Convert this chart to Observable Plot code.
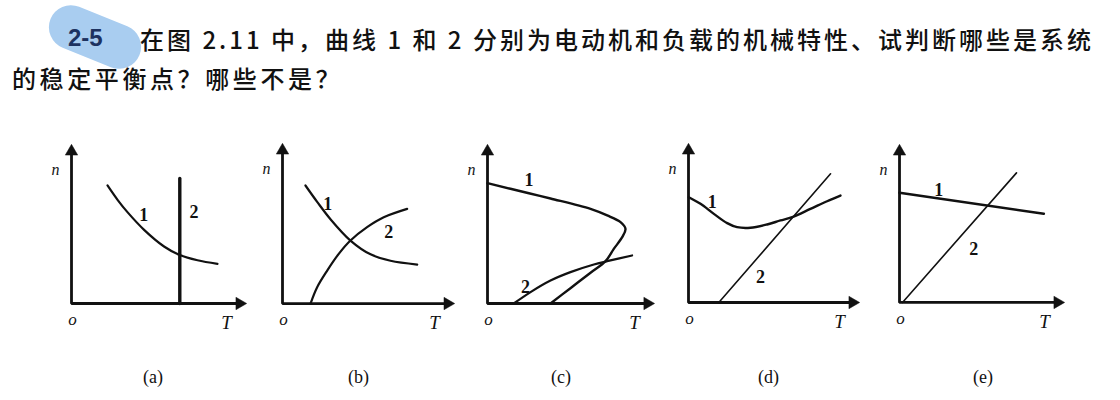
<!DOCTYPE html>
<html>
<head>
<meta charset="utf-8">
<script src="https://cdn.jsdelivr.net/npm/d3@7"></script>
<script src="https://cdn.jsdelivr.net/npm/@observablehq/plot@0.6"></script>
<style>
  html, body { margin: 0; padding: 0; background: #fff; }
  #page { position: relative; width: 1120px; height: 400px; overflow: hidden; background: #fff; }
  .abs { position: absolute; white-space: nowrap; }
  .cjk { font-family: "Noto Sans CJK SC", sans-serif; font-weight: 500; font-size: 24px; line-height: 24px; color: #111; letter-spacing: 3px; }
  .cap { font-family: "Liberation Serif", serif; font-size: 18px; color: #111; }
  #blob { position: absolute; left: 47px; top: 15px; width: 96px; height: 44px; border-radius: 22px; background: #a9cdf0; transform: rotate(22deg); }
  #num { position: absolute; left: 68px; top: 26px; font-family: "Liberation Sans", Arial, sans-serif; font-weight: bold; font-size: 24px; line-height: 24px; color: #1d3260; }
</style>
</head>
<body>
<div id="page">
  <div id="blob"></div>
  <div id="num">2-5</div>
  <div class="abs cjk" style="left:140px;top:27px;">在图 2.11 中，曲线 1 和 2 分别为电动机和负载的机械特性、试判断哪些是系统</div>
  <div class="abs cjk" style="left:12px;top:66px;letter-spacing:3.6px;">的稳定平衡点？哪些不是？</div>
</div>
<script>
// ---------- data (T, n), one unit = same length on both axes ----------
const panelNames = ["(a)", "(b)", "(c)", "(d)", "(e)"];
const axisTEnd = [11.07, 10.87, 10.53, 10.8, 10.4];   // length of T axis
const axisNEnd = [10, 10.07, 10, 10, 9.93];           // length of n axis

// (a)
const aCurve1 = [[2.40,7.87],[3.07,6.91],[3.73,6.09],[4.84,4.91],[6.17,3.80],[7.17,3.25],[8.40,2.88],[9.73,2.64]];
const aCurve2 = [[7.22,0],[7.22,8.33]];
const aLabels = [["1",4.82,5.87],["2",8.17,6.09]];
// (b)
const bCurve1 = [[1.53,7.87],[2.31,6.78],[3.20,5.62],[4.53,4.20],[5.87,3.28],[7.20,2.85],[8.98,2.60]];
const bCurve2 = [[1.87,0],[2.31,1.09],[2.98,2.20],[3.75,3.31],[4.53,4.20],[5.64,5.09],[6.75,5.75],[8.31,6.31]];
const bLabels = [["1",3.02,6.64],["2",7.09,4.75]];
// (c)
const cCurve1 = [[0,8.02],[2.76,7.35],[4.20,7.00],[6.87,6.31],[7.98,5.87],[8.87,5.42],[9.20,4.98],[8.98,4.42],[8.42,3.64],[7.87,2.82],[6.87,2.05],[5.53,1.02],[4.20,0]];
const cCurve2 = [[1.75,0],[2.87,0.76],[4.20,1.53],[5.53,2.09],[7.09,2.60],[7.98,2.82],[9.64,3.20]];
const cLabels = [["1",2.76,8.25],["2",2.53,1.09]];
// (d)
const dCurve1 = [[0.02,7.02],[0.80,6.58],[1.69,5.91],[2.58,5.29],[3.24,5.02],[4.13,4.98],[5.24,5.20],[6.13,5.47],[6.91,5.69],[8.13,6.24],[9.24,6.75],[10.13,7.13]];
const dCurve2 = [[2.02,0],[9.47,8.58]];
const dLabels = [["1",1.58,6.69],["2",4.80,1.69]];
// (e)
const eCurve1 = [[0,7.31],[9.62,5.91]];
const eCurve2 = [[0.2,0],[7.80,8.64]];
const eLabels = [["1",2.62,7.51],["2",4.95,3.58]];

// ---------- layout (pixel placement of each panel's origin) ----------
const originX = [70.7, 282, 487, 688, 899];
const originY = [303, 303, 303, 302, 302];
const captionX = [155, 360, 563, 770, 985];
const UNIT = 15;
const mL = 34, mR = 22, mT = 14, mB = 32;

const panels = [
  {c1: aCurve1, c2: aCurve2, lab: aLabels, w1: 2.2, w2: 3.4},
  {c1: bCurve1, c2: bCurve2, lab: bLabels, w1: 2.2, w2: 2.2},
  {c1: cCurve1, c2: cCurve2, lab: cLabels, w1: 2.4, w2: 2.2},
  {c1: dCurve1, c2: dCurve2, lab: dLabels, w1: 2.4, w2: 1.6},
  {c1: eCurve1, c2: eCurve2, lab: eLabels, w1: 2.6, w2: 1.6}
];

const page = document.getElementById("page");
const ink = "#111";
const italic = {fontFamily: "Liberation Serif, serif", fontStyle: "italic", fill: ink};

panels.forEach((p, i) => {
  const T = axisTEnd[i], N = axisNEnd[i];
  const toObj = a => a.map(([t, n]) => ({T: t, n: n}));
  const plot = Plot.plot({
    width: mL + T * UNIT + mR,
    height: mT + N * UNIT + mB,
    marginLeft: mL, marginRight: mR, marginTop: mT, marginBottom: mB,
    x: {domain: [0, T], axis: null},
    y: {domain: [0, N], axis: null},
    style: {background: "transparent", overflow: "visible"},
    marks: [
      // axes
      Plot.line([{T: 0, n: N}, {T: 0, n: 0}, {T: T, n: 0}], {x: "T", y: "n", stroke: ink, strokeWidth: 2.8, strokeLinejoin: "miter"}),
      Plot.dot([{T: 0, n: N}], {x: "T", y: "n", symbol: "triangle", r: 4.6, fill: ink, stroke: ink, strokeWidth: 0.5, dy: -2}),
      Plot.dot([{T: T, n: 0}], {x: "T", y: "n", symbol: "triangle", r: 4.6, fill: ink, stroke: ink, strokeWidth: 0.5, rotate: 90, dx: 2}),
      // curves
      Plot.line(toObj(p.c1), {x: "T", y: "n", curve: "catmull-rom", stroke: ink, strokeWidth: p.w1}),
      Plot.line(toObj(p.c2), {x: "T", y: "n", curve: "catmull-rom", stroke: ink, strokeWidth: p.w2}),
      // curve labels
      Plot.text(p.lab, {x: d => d[1], y: d => d[2], text: d => d[0], fontFamily: "Liberation Serif, serif", fontSize: 18, fontWeight: "bold", fill: ink}),
      // axis letters
      Plot.text([{T: 0, n: N}], {x: "T", y: "n", text: () => "n", dx: -16, dy: 16, fontSize: 16, ...italic}),
      Plot.text([{T: 0, n: 0}], {x: "T", y: "n", text: () => "o", dx: 1, dy: 16, fontSize: 17, ...italic}),
      Plot.text([{T: T, n: 0}], {x: "T", y: "n", text: () => "T", dx: -11, dy: 19, fontSize: 19, ...italic})
    ]
  });
  plot.style.position = "absolute";
  plot.style.left = (originX[i] - mL) + "px";
  plot.style.top = (originY[i] - N * UNIT - mT) + "px";
  page.appendChild(plot);

  const cap = document.createElement("div");
  cap.className = "abs cap";
  cap.textContent = panelNames[i];
  cap.style.left = (captionX[i] - 12) + "px";
  cap.style.top = "367px";
  page.appendChild(cap);
});
</script>
</body>
</html>
